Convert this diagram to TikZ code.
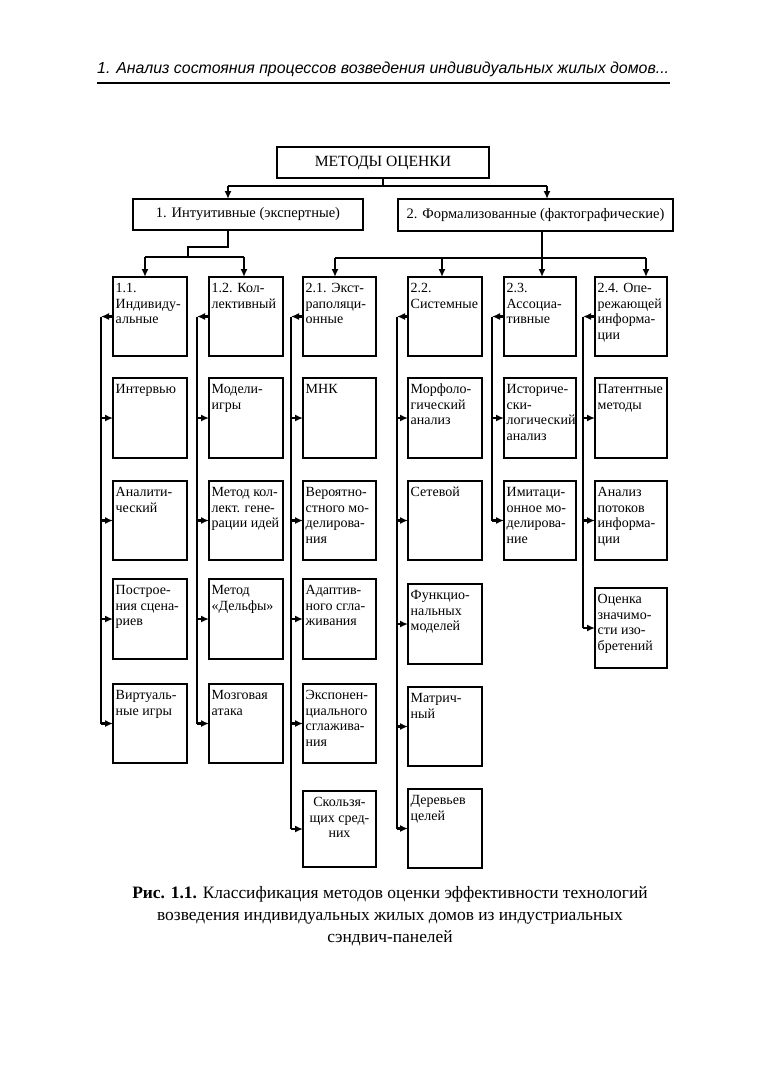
\documentclass[tikz,border=0pt]{standalone}
\usepackage{fontspec}
\setmainfont{Liberation Serif}
\newfontfamily\hdrfont{Liberation Sans}
\usetikzlibrary{arrows.meta}
\newcommand\mkbox[6]{%
  \node[box, minimum width={(#4-#2)*1pt}, minimum height={(#5-#3)*1pt}] (#1) at ({(#2+#4)/2},{(#3+#5)/2}) {};
  \node[txt] (#1t) at ([xshift=2.5pt,yshift=-15.5pt]#1.north west) {\parbox[t]{80pt}{\raggedright #6}};
}
\begin{document}
\begin{tikzpicture}[x=1pt,y=-1pt,
  box/.style={draw, line width=2.2pt, inner sep=0pt, outer sep=0pt},
  conn/.style={line width=2.2pt},
  arr/.style={line width=2.2pt, -{Latex[length=8pt,width=7pt]}},
  txt/.style={inner sep=0pt, anchor=base west, font=\fontsize{14}{15.5}\selectfont},
  big/.style={inner sep=0pt, font=\fontsize{14.5}{17}\selectfont}]
\fill[white] (0,0) rectangle (762,1080);
\useasboundingbox (0,0) rectangle (762,1080);

% header
\node[anchor=base west, inner sep=0pt, font=\hdrfont\itshape\fontsize{15.9}{18}\selectfont] (hd) at (97,73) {1. Анализ состояния процессов возведения индивидуальных жилых домов...};
\coordinate (hl) at (97,83);
\coordinate (hr) at (670,83);
\draw[line width=1.8pt] (hl) -- (hr);

% top boxes
\node[box, minimum width=212pt, minimum height=31pt] (m) at (383,162.5) {};
\node[big, font=\fontsize{15.6}{17}\selectfont] (mt) at (m) {МЕТОДЫ ОЦЕНКИ};
\node[box, minimum width=230pt, minimum height=31pt] (b1) at (248,214.5) {};
\node[big] (b1t) at (b1) {1. Интуитивные (экспертные)};
\node[box, minimum width=275pt, minimum height=32pt] (b2) at (535.5,215) {};
\node[big] (b2t) at (b2) {2. Формализованные (фактографические)};

% column headers
\mkbox{h1}{113}{277}{187}{356}{1.1.\\Индивиду-\\альные}
\mkbox{h2}{209}{277}{283}{356}{1.2. Кол-\\лективный}
\mkbox{h3}{303}{277}{376}{356}{2.1. Экст-\\раполяци-\\онные}
\mkbox{h4}{408}{277}{482}{356}{2.2.\\Системные}
\mkbox{h5}{504}{277}{576}{356}{2.3.\\Ассоциа-\\тивные}
\mkbox{h6}{595}{277}{667}{356}{2.4. Опе-\\режающей\\информа-\\ции}

% column 1
\mkbox{a1}{113}{378}{187}{458}{Интервью}
\mkbox{a2}{113}{481}{187}{560}{Аналити-\\ческий}
\mkbox{a3}{113}{579}{187}{659}{Построе-\\ния сцена-\\риев}
\mkbox{a4}{113}{684}{187}{763}{Виртуаль-\\ные игры}
% column 2
\mkbox{b21}{209}{378}{283}{458}{Модели-\\игры}
\mkbox{b22}{209}{481}{283}{560}{Метод кол-\\лект. гене-\\рации идей}
\mkbox{b23}{209}{579}{283}{659}{Метод\\«Дельфы»}
\mkbox{b24}{209}{684}{283}{763}{Мозговая\\атака}
% column 3
\mkbox{c1}{303}{378}{376}{458}{МНК}
\mkbox{c2}{303}{481}{376}{560}{Вероятно-\\стного мо-\\делирова-\\ния}
\mkbox{c3}{303}{579}{376}{659}{Адаптив-\\ного сгла-\\живания}
\mkbox{c4}{303}{684}{376}{763}{Экспонен-\\циального\\сглажива-\\ния}
\node[box, minimum width=73pt, minimum height=76pt] (c5) at (339.5,829) {};
\node[txt, anchor=base] (c5t) at ([yshift=-15.5pt]c5.north) {\parbox[t]{73pt}{\centering Скользя-\\щих сред-\\них}};
% column 4
\mkbox{d1}{408}{378}{482}{458}{Морфоло-\\гический\\анализ}
\mkbox{d2}{408}{481}{482}{560}{Сетевой}
\mkbox{d3}{408}{584}{482}{664}{Функцио-\\нальных\\моделей}
\mkbox{d4}{408}{687}{482}{766}{Матрич-\\ный}
\mkbox{d5}{408}{789}{482}{868}{Деревьев\\целей}
% column 5
\mkbox{e1}{504}{378}{576}{458}{Историче-\\ски-\\логический\\анализ}
\mkbox{e2}{504}{481}{576}{560}{Имитаци-\\онное мо-\\делирова-\\ние}
% column 6
\mkbox{f1}{595}{378}{667}{458}{Патентные\\методы}
\mkbox{f2}{595}{481}{667}{560}{Анализ\\потоков\\информа-\\ции}
\mkbox{f3}{595}{588}{667}{668}{Оценка\\значимо-\\сти изо-\\бретений}

% top connectors
\coordinate (t0) at (383,186);
\coordinate (ta) at (228,186);
\coordinate (tb) at (547,186);
\draw[conn] (m.south) -- (t0);
\draw[conn] (ta) -- (tb);
\draw[arr] (ta) -- (ta |- b1.north);
\draw[arr] (tb) -- (tb |- b2.north);

\coordinate (ua) at (228,247);
\coordinate (ub) at (188,247);
\coordinate (uc) at (188,257);
\coordinate (uL) at (145,257);
\coordinate (uR) at (244,257);
\draw[conn] (b1.south -| ua) -- (ua) -- (ub) -- (uc);
\draw[conn] (uL) -- (uR);
\draw[arr] (uL) -- (uL |- h1.north);
\draw[arr] (uR) -- (uR |- h2.north);

\coordinate (wa) at (542,258);
\coordinate (wL) at (335,258);
\coordinate (wR) at (646,258);
\coordinate (w4) at (442,258);
\draw[conn] (b2.south -| wa) -- (wa);
\draw[conn] (wL) -- (wR);
\draw[arr] (wL) -- (wL |- h3.north);
\draw[arr] (w4) -- (w4 |- h4.north);
\draw[arr] (wa) -- (wa |- h5.north);
\draw[arr] (wR) -- (wR |- h6.north);

% vertical distribution lines
\coordinate (l1) at (101,0);
\coordinate (l2) at (197,0);
\coordinate (l3) at (291,0);
\coordinate (l4) at (397,0);
\coordinate (l5) at (492,0);
\coordinate (l6) at (583,0);

\draw[arr] (h1.west) -- (h1.west -| l1);
\draw[conn] (h1.west -| l1) -- (a4.west -| l1);
\foreach \n in {a1,a2,a3,a4} \draw[arr] (\n.west -| l1) -- (\n.west);

\draw[arr] (h2.west) -- (h2.west -| l2);
\draw[conn] (h2.west -| l2) -- (b24.west -| l2);
\foreach \n in {b21,b22,b23,b24} \draw[arr] (\n.west -| l2) -- (\n.west);

\draw[arr] (h3.west) -- (h3.west -| l3);
\draw[conn] (h3.west -| l3) -- (c5.west -| l3);
\foreach \n in {c1,c2,c3,c4,c5} \draw[arr] (\n.west -| l3) -- (\n.west);

\draw[arr] (h4.west) -- (h4.west -| l4);
\draw[conn] (h4.west -| l4) -- (d5.west -| l4);
\foreach \n in {d1,d2,d3,d4,d5} \draw[arr] (\n.west -| l4) -- (\n.west);

\draw[arr] (h5.west) -- (h5.west -| l5);
\draw[conn] (h5.west -| l5) -- (e2.west -| l5);
\foreach \n in {e1,e2} \draw[arr] (\n.west -| l5) -- (\n.west);

\draw[arr] (h6.west) -- (h6.west -| l6);
\draw[conn] (h6.west -| l6) -- (f3.west -| l6);
\foreach \n in {f1,f2,f3} \draw[arr] (\n.west -| l6) -- (\n.west);

% caption
\node[anchor=base, inner sep=0pt, font=\fontsize{17.4}{22}\selectfont] (cap) at (390,898) {\parbox[t]{640pt}{\centering \textbf{Рис. 1.1.} Классификация методов оценки эффективности технологий\\возведения индивидуальных жилых домов из индустриальных\\сэндвич-панелей}};
\end{tikzpicture}
\end{document}
